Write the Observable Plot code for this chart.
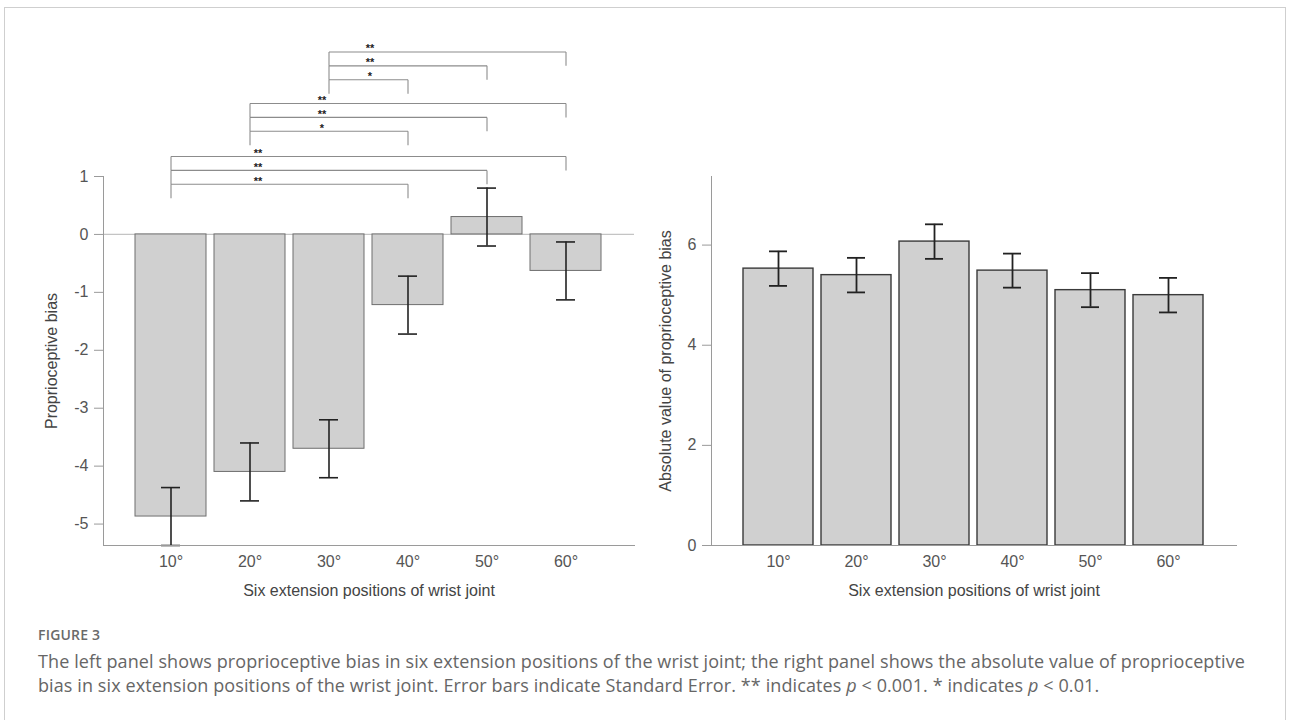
<!DOCTYPE html>
<html>
<head>
<meta charset="utf-8">
<script src="https://cdn.jsdelivr.net/npm/d3@7"></script>
<script src="https://cdn.jsdelivr.net/npm/@observablehq/plot@0.6"></script>
<style>
  html, body { margin: 0; padding: 0; background: #fff; }
  body { width: 1290px; height: 720px; overflow: hidden; position: relative; font-family: "Liberation Sans", Arial, sans-serif; }
  #frame { position: absolute; left: 4px; top: 7px; width: 1282px; height: 740px; border: 1px solid #cfcfcf; box-sizing: border-box; }
  #left { position: absolute; left: 0; top: 0; }
  #right { position: absolute; left: 640px; top: 0; }
  #fig { position: absolute; left: 38px; top: 625px; font-family: "Open Sans", sans-serif; font-size: 14px; font-weight: 600; color: #6a6a6a; letter-spacing: 0.2px; }
  #cap { position: absolute; left: 38px; top: 649px; width: 1240px; font-family: "Open Sans", sans-serif; font-size: 18px; line-height: 24px; color: #666; letter-spacing: 0.1px; white-space: nowrap; }
</style>
</head>
<body>
<div id="frame"></div>
<div id="left"></div>
<div id="right"></div>
<div id="fig">FIGURE 3</div>
<div id="cap">The left panel shows proprioceptive bias in six extension positions of the wrist joint; the right panel shows the absolute value of proprioceptive<br>bias in six extension positions of the wrist joint. Error bars indicate Standard Error. ** indicates <i>p</i> &lt; 0.001. * indicates <i>p</i> &lt; 0.01.</div>
<script>
// ---- data ----
const positions = ["10°", "20°", "30°", "40°", "50°", "60°"];
const bias = [-4.87, -4.10, -3.70, -1.22, 0.30, -0.63];
const biasSE = [0.50, 0.50, 0.50, 0.50, 0.50, 0.50];
const absBias = [5.53, 5.40, 6.07, 5.49, 5.10, 5.00];
const absSE = [0.345, 0.345, 0.345, 0.34, 0.34, 0.345];
const leftTicks = [1, 0, -1, -2, -3, -4, -5];
const rightTicks = [0, 2, 4, 6];
const comparisons = [
  {from: "30°", to: "40°", sig: "*"},
  {from: "30°", to: "50°", sig: "**"},
  {from: "30°", to: "60°", sig: "**"},
  {from: "20°", to: "40°", sig: "*"},
  {from: "20°", to: "50°", sig: "**"},
  {from: "20°", to: "60°", sig: "**"},
  {from: "10°", to: "40°", sig: "**"},
  {from: "10°", to: "50°", sig: "**"},
  {from: "10°", to: "60°", sig: "**"}
];
const xTitle = "Six extension positions of wrist joint";
const leftYTitle = "Proprioceptive bias";
const rightYTitle = "Absolute value of proprioceptive bias";

// ---- tables ----
const leftData = positions.map((p, i) => ({pos: p, value: bias[i], se: biasSE[i]}));
const rightData = positions.map((p, i) => ({pos: p, value: absBias[i], se: absSE[i]}));

// bracket layout (style, not data)
const groupBase = {"10°": 0.625, "20°": 1.54, "30°": 2.43};
const groupLabelDx = {"10°": 87, "20°": 72, "30°": 41};
const levelStep = 0.24;
const segs = [];
const labels = [];
for (const c of comparisons) {
  const k = positions.indexOf(c.to) - 3;
  const y = groupBase[c.from] + levelStep * (k + 1);
  segs.push({x1: c.from, x2: c.to, y1: y, y2: y});
  segs.push({x1: c.from, x2: c.from, y1: y, y2: y - levelStep});
  segs.push({x1: c.to, x2: c.to, y1: y, y2: y - levelStep});
  labels.push({x: c.from, y, sig: c.sig, group: c.from});
}

const font = "Liberation Sans, Arial, Helvetica, sans-serif";
const common = {
  width: 640, height: 600,
  marginTop: 176, marginBottom: 55,
  style: {fontFamily: font, fontSize: "16px", color: "#555", background: "transparent", overflow: "visible"}
};

function errMarks(data, w) {
  return [
    Plot.ruleX(data, {x: "pos", y1: d => d.value - d.se, y2: d => d.value + d.se, stroke: "#222", strokeWidth: w}),
    Plot.tickY(data, {x: "pos", y: d => d.value + d.se, insetLeft: 26, insetRight: 26, stroke: "#222", strokeWidth: w}),
    Plot.tickY(data, {x: "pos", y: d => d.value - d.se, insetLeft: 26, insetRight: 26, stroke: "#222", strokeWidth: w})
  ];
}

const left = Plot.plot({
  ...common,
  marginLeft: 103, marginRight: 6,
  x: {domain: positions, paddingInner: 0.1, paddingOuter: 0.4, axis: null},
  y: {domain: [-5.37, 1], axis: null},
  marks: [
    Plot.ruleY([0], {stroke: "#c4c4c4", strokeWidth: 1.2}),
    Plot.barY(leftData, {x: "pos", y: "value", fill: "#d0d0d0", stroke: "#6e6e6e", strokeWidth: 1}),
    ...errMarks(leftData, 1.6),
    Plot.frame({anchor: "left", stroke: "#9a9a9a"}),
    Plot.frame({anchor: "bottom", stroke: "#9a9a9a"}),
    Plot.axisY(leftTicks, {label: null, tickSize: 9, tickPadding: 6, tickFormat: d => String(d), stroke: "#9a9a9a", fill: "#555", fontSize: 16}),
    Plot.axisX({label: null, tickSize: 0, tickPadding: 10, fill: "#555", fontSize: 16}),
    Plot.link(segs, {x1: "x1", x2: "x2", y1: "y1", y2: "y2", stroke: "#8c8c8c", strokeWidth: 1.1}),
    ...Object.keys(groupLabelDx).map(g =>
      Plot.text(labels.filter(l => l.group === g), {x: "x", y: "y", text: "sig", dx: groupLabelDx[g], dy: -3, fontSize: 11, fontWeight: "bold", fill: "#222"})
    ),
    Plot.text([xTitle], {text: d => d, frameAnchor: "bottom", dy: 50, fontSize: 16, fill: "#444"}),
    Plot.text([leftYTitle], {text: d => d, frameAnchor: "left", textAnchor: "middle", rotate: -90, dx: -52, fontSize: 16, fill: "#444"})
  ]
});
document.getElementById("left").append(left);

const right = Plot.plot({
  ...common,
  width: 650,
  marginLeft: 71, marginRight: 54,
  x: {domain: positions, paddingInner: 0.1, paddingOuter: 0.4, axis: null},
  y: {domain: [0, 7.37], axis: null},
  marks: [
    Plot.barY(rightData, {x: "pos", y: "value", fill: "#d0d0d0", stroke: "#3a3a3a", strokeWidth: 1.4}),
    ...errMarks(rightData, 1.8),
    Plot.frame({anchor: "left", stroke: "#9a9a9a"}),
    Plot.frame({anchor: "bottom", stroke: "#9a9a9a"}),
    Plot.axisY(rightTicks, {label: null, tickSize: 9, tickPadding: 6, tickFormat: d => String(d), stroke: "#9a9a9a", fill: "#555", fontSize: 16}),
    Plot.axisX({label: null, tickSize: 0, tickPadding: 10, fill: "#555", fontSize: 16}),
    Plot.text([xTitle], {text: d => d, frameAnchor: "bottom", dy: 50, fontSize: 16, fill: "#444"}),
    Plot.text([rightYTitle], {text: d => d, frameAnchor: "left", textAnchor: "middle", rotate: -90, dx: -46, fontSize: 16, fill: "#444"})
  ]
});
document.getElementById("right").append(right);
</script>
</body>
</html>
